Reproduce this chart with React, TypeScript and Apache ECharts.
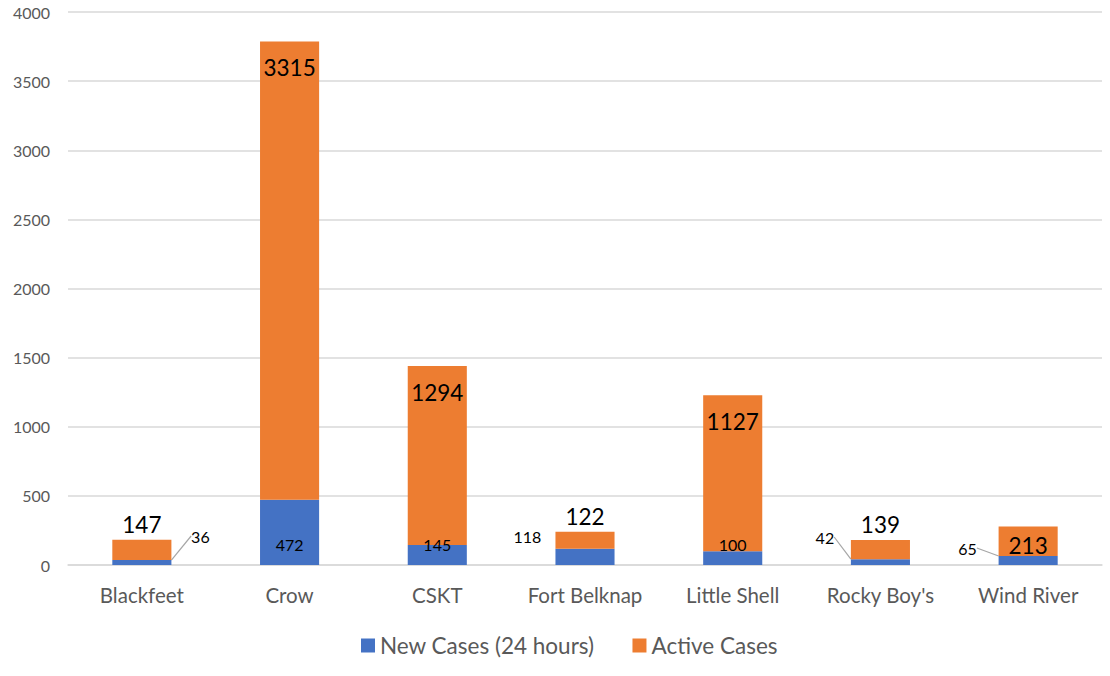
import React, { useEffect, useRef } from "react";
import * as echarts from "echarts";

const categories = ["Blackfeet", "Crow", "CSKT", "Fort Belknap", "Little Shell", "Rocky Boy's", "Wind River"];
const newCases = [36, 472, 145, 118, 100, 42, 65];
const activeCases = [147, 3315, 1294, 122, 1127, 139, 213];
const yTicks = { min: 0, max: 4000, interval: 500 };

const FONT = "Lato, 'Open Sans', sans-serif";

export default function App() {
  const ref = useRef<HTMLDivElement>(null);
  useEffect(() => {
    document.body.style.margin = "0";
    const chart = echarts.init(ref.current!, null, { renderer: "svg" });

    const activePos: Record<number, any> = {
      0: { position: "top", distance: 4 },
      3: { position: "top", distance: 4 },
      5: { position: "top", distance: 4 },
      6: { position: "insideTop", distance: 7 },
    };
    const newOutside: Record<number, { side: "left" | "right"; dx: number; dy: number; line: boolean }> = {
      0: { side: "right", dx: 29, dy: 29, line: true },
      3: { side: "left", dx: 28, dy: 29, line: false },
      5: { side: "left", dx: 26, dy: 28, line: true },
      6: { side: "left", dx: 31, dy: 17, line: true },
    };

    const newData = newCases.map((v, i) => ({
      value: v,
      labelLine: { show: !!(newOutside[i] && newOutside[i].line) },
    }));
    const activeData = activeCases.map((v, i) => ({
      value: v,
      label: activePos[i] ? activePos[i] : { position: "insideTop", distance: 15 },
    }));

    chart.setOption({
      animation: false,
      textStyle: { fontFamily: FONT },
      grid: { left: 68, right: 8, top: 12, bottom: 111, containLabel: false },
      legend: {
        bottom: 14,
        left: 356,
        itemWidth: 14,
        itemHeight: 14,
        itemGap: 38,
        icon: "rect",
        textStyle: { fontSize: 22.5, color: "#595959", fontFamily: FONT },
        data: ["New Cases (24 hours)", "Active Cases"],
      },
      xAxis: {
        type: "category",
        data: categories,
        axisTick: { show: false },
        axisLine: { lineStyle: { color: "#d9d9d9", width: 1.5 } },
        axisLabel: { fontSize: 20.5, color: "#595959", margin: 19, fontFamily: FONT, interval: 0 },
      },
      yAxis: {
        type: "value",
        min: yTicks.min,
        max: yTicks.max,
        interval: yTicks.interval,
        axisLine: { show: false },
        axisTick: { show: false },
        axisLabel: {
          fontSize: 16,
          color: "#595959",
          margin: 18,
          fontFamily: FONT,
          formatter: (v: number) => String(v),
        },
        splitLine: { lineStyle: { color: "#d9d9d9", width: 1.5 } },
      },
      series: [
        {
          name: "New Cases (24 hours)",
          type: "bar",
          stack: "total",
          barWidth: "40%",
          itemStyle: { color: "#4472C4" },
          data: newData,
          label: {
            show: true,
            position: "insideBottom",
            distance: 13,
            fontSize: 16,
            color: "#000",
            fontFamily: FONT,
          },
          labelLine: { show: true, lineStyle: { color: "#a6a6a6", width: 1.2 } },
          labelLayout: (params: any) => {
            const o = newOutside[params.dataIndex];
            if (!o) return {};
            const r = params.rect;
            const bottom = r.y + r.height;
            return {
              x: o.side === "right" ? r.x + r.width + o.dx : r.x - o.dx,
              y: bottom - o.dy,
              align: "center",
              verticalAlign: "middle",
            };
          },
        },
        {
          name: "Active Cases",
          type: "bar",
          stack: "total",
          barWidth: "40%",
          itemStyle: { color: "#ED7D31" },
          data: activeData,
          label: { show: true, fontSize: 22.5, color: "#000", fontFamily: FONT },
        },
      ],
    });
    return () => chart.dispose();
  }, []);
  return <div ref={ref} style={{ width: 1110, height: 676 }} />;
}
